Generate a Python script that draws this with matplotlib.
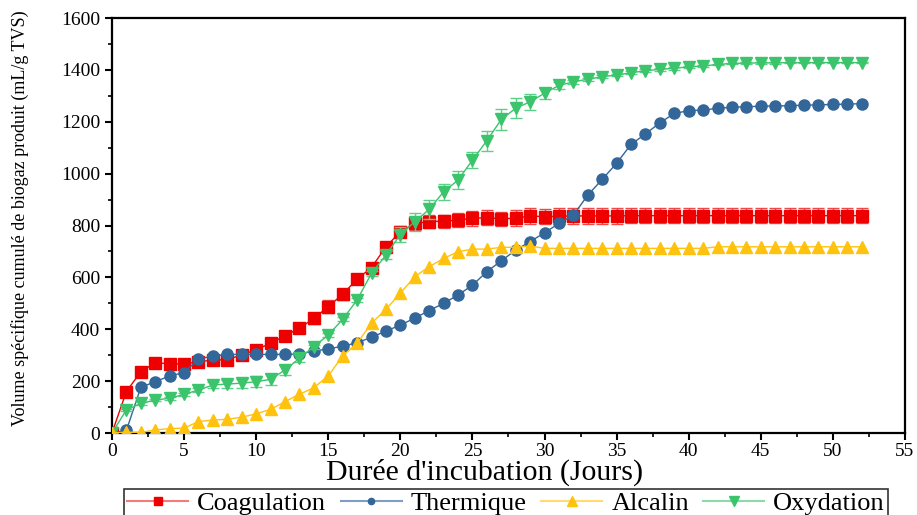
import numpy as np
import matplotlib
matplotlib.use("Agg")
import matplotlib.pyplot as plt
from matplotlib.lines import Line2D
from matplotlib.ticker import MultipleLocator

plt.rcParams['font.family'] = ['Liberation Serif', 'DejaVu Serif']

# Cumulative specific biogas volume (mL/g TVS) per incubation day
coagulation = [0, 160, 236, 271, 267, 266, 275, 281, 283, 301,
               321, 346, 375, 404, 442, 487, 535, 593, 638, 718,
               776, 808, 815, 817, 821, 828, 830, 826, 828, 837,
               834, 836, 837, 837, 837, 837, 838, 838, 838, 838,
               838, 838, 838, 838, 838, 838, 838, 838, 838, 838,
               838, 838, 838]
coagulation_err = [0, 8, 8, 6, 6, 6, 6, 6, 8, 8,
                   10, 15, 18, 20, 22, 25, 22, 15, 12, 10,
                   22, 25, 25, 25, 28, 28, 28, 28, 30, 30,
                   30, 30, 30, 30, 30, 30, 30, 30, 30, 30,
                   30, 30, 30, 30, 30, 30, 30, 30, 30, 30,
                   30, 30, 30]
thermique = [0, 10, 176, 198, 220, 233, 285, 297, 303, 303,
             303, 303, 303, 305, 316, 324, 335, 348, 369, 393,
             416, 443, 472, 500, 532, 570, 622, 664, 705, 738,
             772, 808, 840, 917, 978, 1040, 1113, 1153, 1196, 1232,
             1243, 1245, 1252, 1256, 1258, 1260, 1261, 1262, 1264, 1265,
             1267, 1268, 1270]
alcalin = [0, 3, 2, 12, 17, 19, 44, 50, 53, 61,
           74, 91, 121, 149, 175, 220, 297, 346, 423, 477,
           539, 603, 641, 673, 699, 709, 709, 716, 716, 721,
           712, 712, 712, 712, 712, 712, 712, 712, 712, 712,
           712, 712, 718, 718, 718, 718, 718, 718, 718, 718,
           718, 718, 718]
oxydation = [0, 89, 114, 127, 134, 149, 166, 185, 189, 192,
             198, 207, 243, 288, 333, 378, 438, 513, 616, 686,
             765, 815, 862, 930, 975, 1052, 1127, 1209, 1252, 1277,
             1310, 1340, 1354, 1364, 1374, 1380, 1389, 1397, 1402, 1406,
             1412, 1415, 1421, 1425, 1426, 1427, 1427, 1428, 1428, 1428,
             1428, 1428, 1428]
oxydation_err = [0, 5, 5, 5, 5, 5, 8, 10, 15, 18,
                 20, 20, 18, 15, 8, 8, 8, 8, 10, 15,
                 30, 35, 38, 30, 35, 30, 38, 40, 38, 30,
                 22, 12, 8, 5, 5, 5, 5, 5, 5, 5,
                 3, 3, 3, 3, 3, 3, 3, 3, 3, 3,
                 3, 3, 3]

labels = ['Coagulation', 'Thermique', 'Alcalin', 'Oxydation']
days = np.arange(len(coagulation))

fig = plt.figure(figsize=(9.17, 5.15), dpi=100)
ax = fig.add_axes([0.1221, 0.1592, 0.8648, 0.8058])

red, blue, yellow, green = '#ee0000', '#336699', '#ffc20e', '#3cc46c'
ms = 8

ax.errorbar(days, coagulation, yerr=coagulation_err, color=red, marker='s',
            ms=ms, lw=1, ecolor='#f04848', elinewidth=1, capsize=4,
            capthick=1, zorder=2)
ax.plot(days, thermique, color=blue, marker='o', ms=ms, lw=1,
        markeredgecolor=blue, zorder=3)
ax.errorbar(days, oxydation, yerr=oxydation_err, color=green, marker='v',
            ms=ms + 1, lw=1, ecolor='#5cd088', elinewidth=1, capsize=4,
            capthick=1, zorder=4)
ax.plot(days, alcalin, color=yellow, marker='^', ms=ms + 1, lw=1, zorder=5)

ax.set_xlim(0, 55)
ax.set_ylim(0, 1600)
ax.xaxis.set_major_locator(MultipleLocator(5))
ax.xaxis.set_minor_locator(MultipleLocator(2.5))
ax.yaxis.set_major_locator(MultipleLocator(200))
ax.yaxis.set_minor_locator(MultipleLocator(100))
ax.tick_params(which='major', direction='out', length=5, width=1.5,
               labelsize=14, top=False, right=False)
ax.tick_params(axis='x', which='major', pad=2)
ax.tick_params(which='minor', direction='out', length=3, width=1.2,
               top=False, right=False)
for s in ax.spines.values():
    s.set_linewidth(1.6)

ax.set_xlabel("Durée d'incubation (Jours)", fontsize=21.5)
ax.xaxis.set_label_coords(0.47, -0.1133)
ax.xaxis.label.set_va('baseline')
ax.set_ylabel('Volume spécifique cumulé de biogaz produit (mL/g TVS)',
              fontsize=13)
ax.yaxis.set_label_coords(-0.116, 0.518)
ax.yaxis.label.set_va('center')

handles = [
    Line2D([], [], color='#f57a7a', marker='s', ms=6, mfc=red, mec=red, lw=1.5),
    Line2D([], [], color='#7f9fc2', marker='o', ms=4.5, mfc=blue, mec=blue, lw=1.5),
    Line2D([], [], color='#ffdb70', marker='^', ms=7, mfc=yellow, mec=yellow, lw=1.5),
    Line2D([], [], color='#8adba6', marker='v', ms=7, mfc=green, mec=green, lw=1.5),
]
leg = fig.legend(handles, labels, loc='upper center',
                 bbox_to_anchor=(0.552, 0.051), ncol=4, fontsize=19,
                 frameon=True, fancybox=False, edgecolor='black',
                 handlelength=2.3, handletextpad=0.35, columnspacing=0.55,
                 borderpad=0.12, borderaxespad=0)
leg.get_frame().set_linewidth(1.2)

fig.savefig('out.png', dpi=100)
